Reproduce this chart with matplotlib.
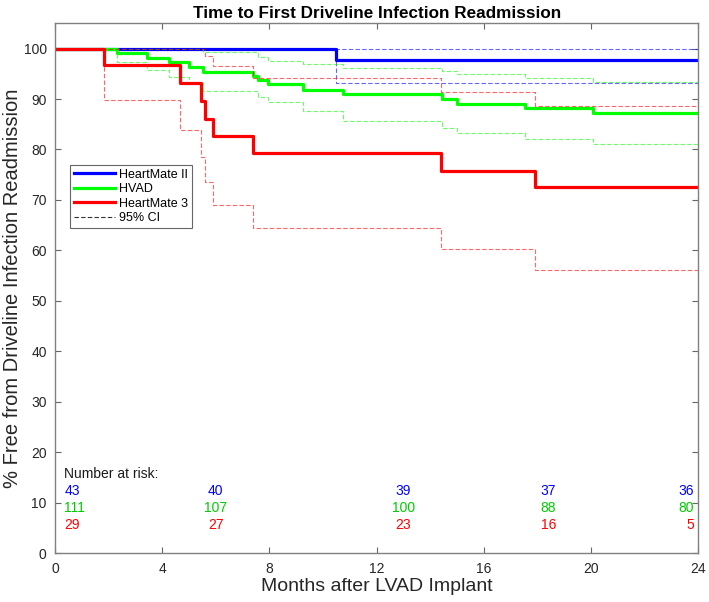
import numpy as np
import matplotlib
matplotlib.use("Agg")
import matplotlib.pyplot as plt
from matplotlib.lines import Line2D

plt.rcParams['font.family'] = ['Liberation Sans', 'DejaVu Sans']

# HeartMate II
t_hm2 = [0, 10.5, 24]
s_hm2 = [100, 97.7, 97.7]
lo_hm2 = [100, 93.2, 93.2]
hi_hm2 = [100, 100, 100]

# HVAD
t_hvad = [0, 2.33, 3.42, 4.25, 5.0, 5.53, 7.40, 7.59, 7.96, 9.26, 10.76, 14.43, 15.0, 17.54, 20.06, 24]
s_hvad = [100, 99.1, 98.2, 97.3, 96.4, 95.4, 94.6, 93.8, 92.9, 91.8, 90.9, 90.1, 89.1, 88.2, 87.3, 87.3]
lo_hvad = [100, 97.3, 95.7, 94.3, 93.2, 91.5, 91.5, 90.4, 89.4, 87.7, 85.6, 84.3, 83.3, 82.1, 81.0, 81.0]
hi_hvad = [100, 100, 100, 100, 100, 99.3, 99.3, 98.3, 97.5, 97.0, 96.2, 95.5, 94.9, 94.1, 93.3, 93.3]

# HeartMate 3
t_hm3 = [0, 1.83, 4.66, 5.45, 5.6, 5.9, 7.4, 14.4, 17.9, 24]
s_hm3 = [100, 96.7, 93.2, 89.7, 86.1, 82.6, 79.3, 75.8, 72.5, 72.5]
lo_hm3 = [100, 89.9, 83.9, 78.5, 73.5, 69.0, 64.5, 60.2, 56.2, 56.2]
hi_hm3 = [100, 100, 100, 100, 98.5, 96.6, 94.1, 91.4, 88.6, 88.6]

# number at risk
risk_hm2 = [43, 40, 39, 37, 36]
risk_hvad = [111, 107, 100, 88, 80]
risk_hm3 = [29, 27, 23, 16, 5]

fig = plt.figure(figsize=(7.09, 6.02), dpi=100)
ax = fig.add_axes([0.0776, 0.0809, 0.9074, 0.8804])

series = [
    (t_hm2, s_hm2, lo_hm2, hi_hm2, '#0000ff', 'HeartMate II'),
    (t_hvad, s_hvad, lo_hvad, hi_hvad, '#00ff00', 'HVAD'),
    (t_hm3, s_hm3, lo_hm3, hi_hm3, '#ff0000', 'HeartMate 3'),
]
handles = []
for t, s, lo, hi, c, name in series:
    h, = ax.step(t, s, where='post', color=c, lw=2.3, label=name)
    handles.append(h)
    for ci in (lo, hi):
        ax.step(t, ci, where='post', color=c, lw=0.8, alpha=0.6, dashes=(4, 2))

handles.append(Line2D([], [], color='#333333', lw=0.8, dashes=(4, 2), label='95% CI'))

leg = ax.legend(handles=handles, loc='upper left', bbox_to_anchor=(0.024, 0.733),
                borderaxespad=0, fontsize=9, handlelength=3.3, handletextpad=0.3,
                labelspacing=0.2, borderpad=0.3, fancybox=False, framealpha=1)
leg.get_frame().set_edgecolor('#666666')
leg.get_frame().set_linewidth(0.8)

# number at risk table
risk_x = [0.35, 6.0, 13.0, 18.4, 23.85]
risk_ha = ['left', 'center', 'center', 'center', 'right']
ax.text(0.35, 15.7, 'Number at risk:', fontsize=10, color='#1a1a1a', va='center')
for vals, c, y in [(risk_hm2, '#0000ff', 12.3), (risk_hvad, '#00cc00', 9.0), (risk_hm3, '#ff0000', 5.6)]:
    for x, v, ha in zip(risk_x, vals, risk_ha):
        ax.text(x, y, str(v), color=c, fontsize=10, ha=ha, va='center')

ax.set_xlim(0, 24)
ax.set_ylim(0, 105)
ax.set_xticks(np.arange(0, 25, 4))
ax.set_yticks(np.arange(0, 101, 10))
ax.tick_params(direction='in', top=True, right=True, length=4, width=0.8,
               color='#666666', labelcolor='#262626', labelsize=10)
ax.tick_params(axis='y', pad=6)
ax.tick_params(axis='x', pad=6)
for sp in ax.spines.values():
    sp.set_color('#808080')
    sp.set_linewidth(1.0)

ax.set_title('Time to First Driveline Infection Readmission', fontsize=12.3,
             fontweight='bold', pad=4)
ax.set_xlabel('Months after LVAD Implant', fontsize=14, color='#262626', labelpad=2)
ax.set_ylabel('% Free from Driveline Infection Readmission', fontsize=14.5,
              color='#262626', labelpad=1)

fig.savefig('out.png', dpi=100)
